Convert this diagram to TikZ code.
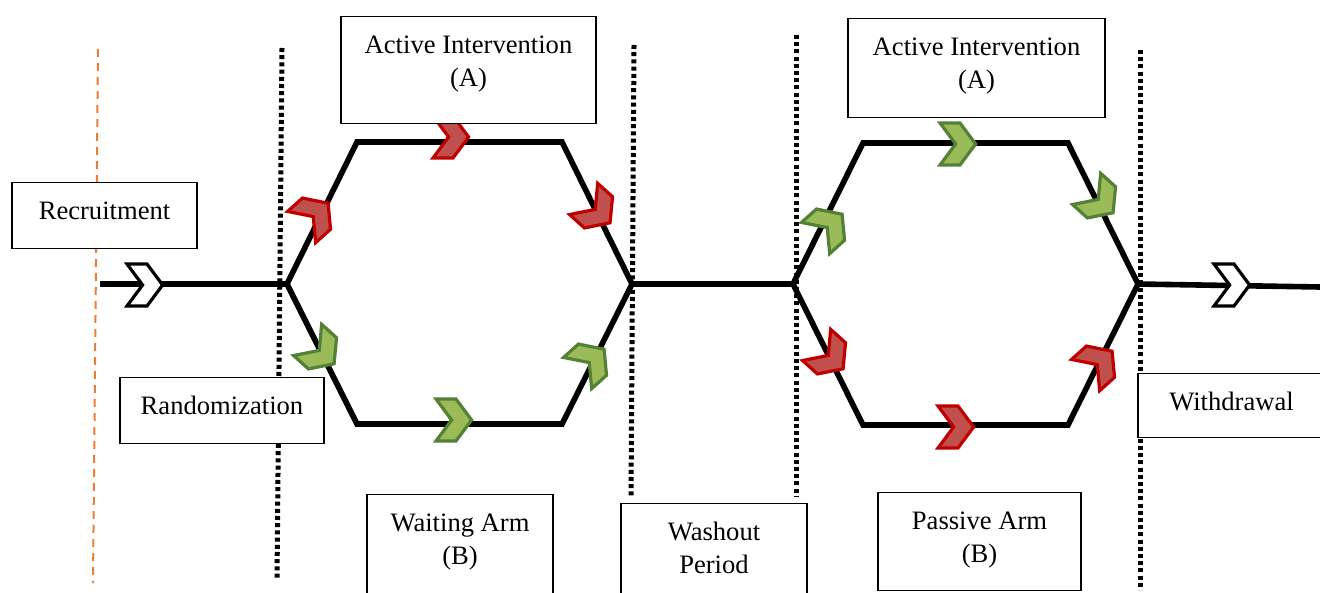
\documentclass[tikz,border=0pt]{standalone}
\usepackage{fontspec}
\setmainfont{Liberation Serif}
\usetikzlibrary{calc, positioning}
\definecolor{chevred}{RGB}{192,80,77}
\definecolor{chevredline}{RGB}{192,0,0}
\definecolor{chevgreen}{RGB}{155,187,89}
\definecolor{chevgreenline}{RGB}{83,129,53}
\definecolor{cutorange}{RGB}{237,125,49}
\tikzstyle{box} = [rectangle, draw=black, fill=white, line width=0.7pt, inner sep=0pt, text height=18.5pt, align=center, anchor=north, font=\fontsize{13.3}{16.5}\selectfont]
\tikzstyle{twobox} = [box, text height=35pt]
\tikzstyle{track} = [line width=2.8pt, line join=miter]
\tikzstyle{dotline} = [line width=2.5pt, dash pattern=on 2pt off 1.6pt]
\tikzstyle{cutline} = [cutorange, line width=1pt, dash pattern=on 4pt off 3pt]
\tikzstyle{redchev} = [draw=chevredline, fill=chevred, line width=1.6pt]
\tikzstyle{greenchev} = [draw=chevgreenline, fill=chevgreen, line width=1.6pt]
\tikzstyle{whitechev} = [draw=black, fill=white, line width=1.6pt]
\tikzset{chev/.pic={\path[pic actions, line join=miter] (-9pt,10.5pt) -- (1pt,10.5pt) -- (8.8pt,0pt) -- (1pt,-10.5pt) -- (-9pt,-10.5pt) -- (-1.2pt,0pt) -- cycle;}}

\begin{document}
\begin{tikzpicture}[x=0.5pt, y=-0.5pt]
		\useasboundingbox (0,0) rectangle (1320,593);
		% separators
		\coordinate (cutT) at (98,49);
		\coordinate (cutB) at (93,583);
		\coordinate (rndT) at (282,48);
		\coordinate (rndB) at (277,580);
		\coordinate (wsaT) at (634,45);
		\coordinate (wsaB) at (631,497);
		\coordinate (wsbT) at (796,35);
		\coordinate (wsbB) at (796,497);
		\coordinate (wdrT) at (1140,50);
		\coordinate (wdrB) at (1140,590);
		\draw [cutline] (cutT) -- (cutB);
		\draw [dotline] (rndT) -- (rndB);
		\draw [dotline] (wsaT) -- (wsaB);
		\draw [dotline] (wsbT) -- (wsbB);
		\draw [dotline] (wdrT) -- (wdrB);
		% arms
		\coordinate (start) at (100,284);
		\coordinate (finish) at (1320,287);
		\coordinate (aW) at (287,284);
		\coordinate (aNW) at (357,142);
		\coordinate (aNE) at (562,142);
		\coordinate (aE) at (632,284);
		\coordinate (aSE) at (562,424);
		\coordinate (aSW) at (357,424);
		\coordinate (bW) at (793,284);
		\coordinate (bNW) at (863,143);
		\coordinate (bNE) at (1068,143);
		\coordinate (bE) at (1138,284);
		\coordinate (bSE) at (1068,425);
		\coordinate (bSW) at (863,425);
		\draw [track] (start) -- (aW);
		\draw [track] (aW) -- (aNW) -- (aNE) -- (aE) -- (aSE) -- (aSW) -- cycle;
		\draw [track] (aE) -- (bW);
		\draw [track] (bW) -- (bNW) -- (bNE) -- (bE) -- (bSE) -- (bSW) -- cycle;
		\draw [track] (bE) -- (finish);
		\foreach \x/\y/\a in {451/137/0, 315/215/42, 597/211/-42, 830/357/-42, 956/427/0, 1099/363/42}
			\pic [redchev, rotate=\a] at (\x,\y) {chev};
		\foreach \x/\y/\a in {454/420/0, 321/352/-42, 591/361/42, 829/226/42, 958/144/0, 1100/201/-42}
			\pic [greenchev, rotate=\a] at (\x,\y) {chev};
		\pic [whitechev] at (145,285) {chev};
		\pic [whitechev] at (1232,285) {chev};
		% labels
		\node (rec) [box, minimum width=92.5pt, text depth=14.5pt] at (104.5,182) {Recruitment};
		\node (rand) [box, minimum width=102pt, text depth=14.5pt] at (222,377) {Randomization};
		\node (actA) [twobox, minimum width=127.5pt, text depth=18.5pt] at (468.5,16) {Active Intervention\\(A)};
		\node (actB) [twobox, minimum width=128.5pt, text depth=14.5pt] at (976.5,18) {Active Intervention\\(A)};
		\node (wait) [twobox, minimum width=93pt, text depth=18.5pt] at (460,494) {Waiting Arm\\(B)};
		\node (wash) [twobox, minimum width=93pt, text depth=18.5pt] at (714,503) {Washout\\Period};
		\node (pass) [twobox, minimum width=101.5pt, text depth=14pt] at (979.5,492) {Passive Arm\\(B)};
		\node (wdr) [box, minimum width=93.5pt, text depth=13.5pt] at (1231.5,373) {Withdrawal};
	\end{tikzpicture}
\end{document}
